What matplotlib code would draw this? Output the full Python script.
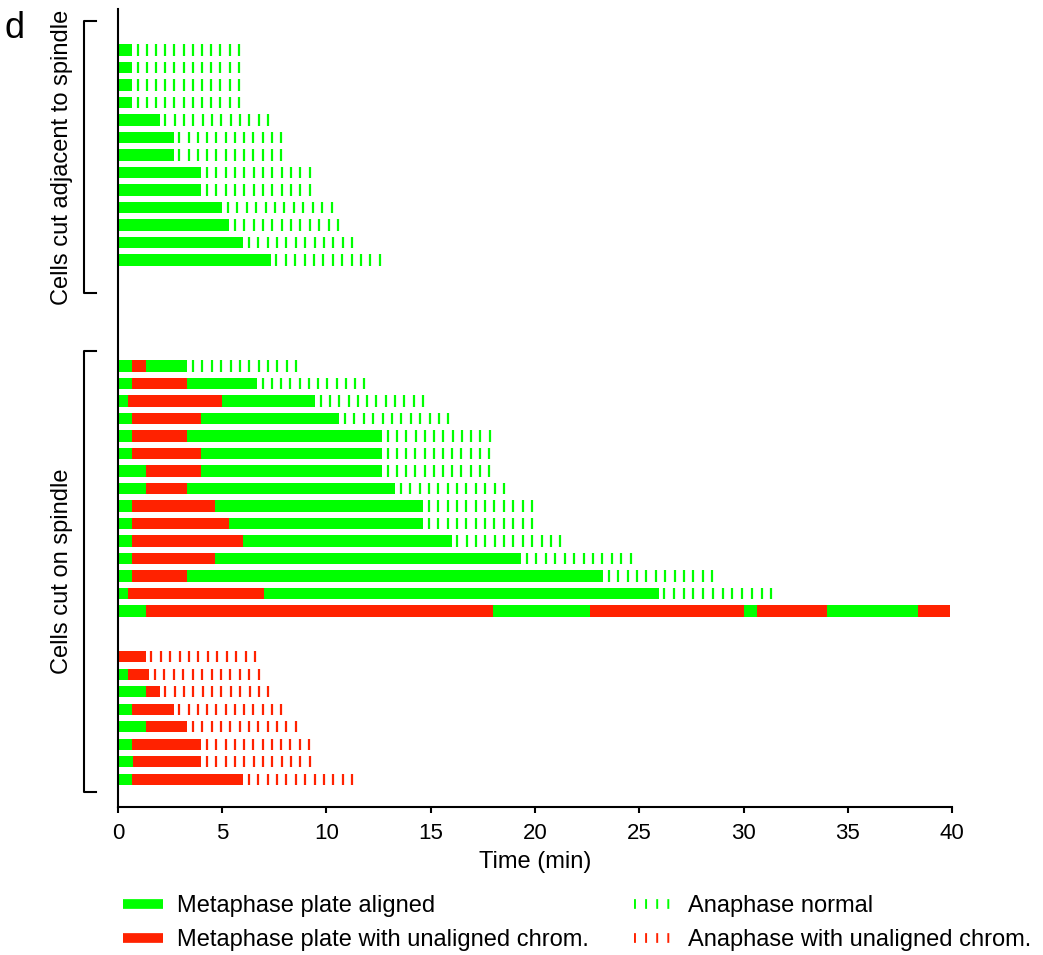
import matplotlib.pyplot as plt
import numpy as np
from matplotlib.lines import Line2D

plt.rcParams['font.family'] = ['Liberation Sans', 'DejaVu Sans']
plt.rcParams['lines.scale_dashes'] = False

GREEN = '#00ff00'
RED = '#ff2200'
COL = {'g': GREEN, 'r': RED}

# cells cut adjacent to spindle: metaphase segment ends (min), phase colours, anaphase end
adj_bounds = [[0.67], [0.67], [0.67], [0.67], [2.0], [2.67], [2.67],
              [4.0], [4.0], [5.0], [5.33], [6.0], [7.33]]
adj_phases = ['g'] * 13
adj_ana_end = [5.85, 5.85, 5.85, 5.85, 7.24, 7.88, 7.88, 9.24, 9.24, 10.3, 10.6, 11.29, 12.6]

# cells cut on spindle, normal anaphase
mid_bounds = [
    [0.67, 1.33, 3.33],
    [0.67, 3.33, 6.67],
    [0.5, 5.0, 9.45],
    [0.67, 4.0, 10.62],
    [0.67, 3.33, 12.67],
    [0.67, 4.0, 12.67],
    [1.33, 4.0, 12.67],
    [1.33, 3.33, 13.3],
    [0.67, 4.67, 14.65],
    [0.67, 5.33, 14.65],
    [0.67, 6.0, 16.0],
    [0.67, 4.67, 19.33],
    [0.67, 3.33, 23.27],
    [0.5, 7.0, 25.93],
    [1.33, 18.0, 22.65, 30.0, 30.67, 34.0, 38.35, 39.92],
]
mid_phases = ['grg'] * 14 + ['grgrgrgr']
mid_ana_end = [8.6, 11.87, 14.68, 15.9, 17.87, 17.85, 17.85, 18.56, 19.9, 19.9,
               21.26, 24.65, 28.55, 31.38, None]

# cells cut on spindle, anaphase with unaligned chromosomes
bot_bounds = [[1.33], [0.5, 1.5], [1.33, 2.0], [0.67, 2.67], [1.33, 3.33],
              [0.67, 4.0], [0.7, 4.0], [0.67, 6.0]]
bot_phases = ['r'] + ['gr'] * 7
bot_ana_end = [6.62, 6.8, 7.26, 7.88, 8.58, 9.2, 9.24, 11.29]

legend_labels = ['Metaphase plate aligned', 'Metaphase plate with unaligned chrom.',
                 'Anaphase normal', 'Anaphase with unaligned chrom.']

fig = plt.figure(figsize=(10.43, 9.55), dpi=100)
ax = fig.add_axes([0.1131, 0.1546, 0.7997, 0.8357])

H = 0.64


def draw_group(y0, bounds, phases, ana_end, ana_color):
    for i, (b, ph, ae) in enumerate(zip(bounds, phases, ana_end)):
        y = y0 + i
        left = 0
        for end, p in zip(b, ph):
            ax.barh(y, end - left, left=left, height=H, color=COL[p], linewidth=0)
            left = end
        if ae is not None:
            xs = np.linspace(left + 0.27, ae - 0.05, 12)
            ax.vlines(xs, y - H / 2, y + H / 2, colors=ana_color, linewidth=1.6)


draw_group(0, adj_bounds, adj_phases, adj_ana_end, GREEN)
draw_group(18.05, mid_bounds, mid_phases, mid_ana_end, GREEN)
draw_group(34.67, bot_bounds, bot_phases, bot_ana_end, RED)

ax.set_xlim(0, 40)
ax.set_ylim(43.27, -2.33)
ax.set_xticks(np.arange(0, 41, 5))
ax.tick_params(axis='x', direction='out', length=4, width=1.5, pad=7, labelsize=16)
ax.tick_params(axis='y', left=False, labelleft=False)
for s in ['top', 'right']:
    ax.spines[s].set_visible(False)
for s in ['left', 'bottom']:
    ax.spines[s].set_linewidth(1.5)
ax.set_xlabel('Time (min)', fontsize=17, labelpad=5)

# group brackets
tr = ax.get_yaxis_transform()
for top, bot in [(-1.67, 13.9), (17.18, 42.4)]:
    ax.plot([-0.0264, -0.0408, -0.0408, -0.0264], [top, top, bot, bot],
            color='black', linewidth=1.5, transform=tr, clip_on=False)
ax.text(-0.067, 6.11, 'Cells cut adjacent to spindle', rotation=90, ha='center',
        va='center', fontsize=17, transform=tr)
ax.text(-0.067, 29.8, 'Cells cut on spindle', rotation=90, ha='center',
        va='center', fontsize=17, transform=tr)

fig.text(15 / 1043, 1 - 29 / 955, 'd', ha='center', va='center', fontsize=26)

handles = [
    Line2D([], [], color=GREEN, linewidth=7, solid_capstyle='butt'),
    Line2D([], [], color=RED, linewidth=7, solid_capstyle='butt'),
    Line2D([], [], color=GREEN, linewidth=7, dashes=(1.4, 6.6), dash_capstyle='butt'),
    Line2D([], [], color=RED, linewidth=7, dashes=(1.4, 6.6), dash_capstyle='butt'),
]
fig.legend(handles, legend_labels, loc='upper left', bbox_to_anchor=(123 / 1043, 0.063),
           ncol=2, frameon=False, fontsize=17, handlelength=1.7, handletextpad=0.6,
           columnspacing=1.9, labelspacing=0.52, borderpad=0, borderaxespad=0)

fig.savefig('out.png', dpi=100)
